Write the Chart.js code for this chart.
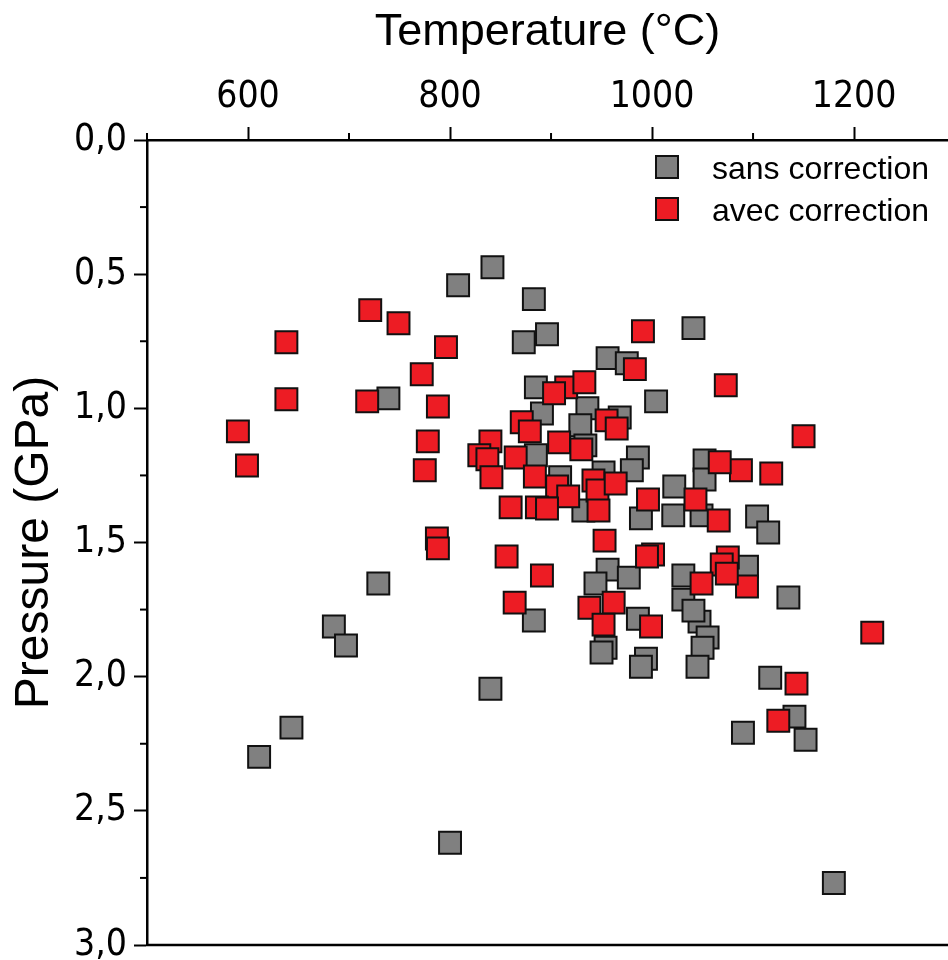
<!DOCTYPE html>
<html>
<head>
<meta charset="utf-8">
<script src="https://cdn.jsdelivr.net/npm/chart.js@4.4.1/dist/chart.umd.min.js"></script>
<style>
  html, body { margin: 0; padding: 0; background: #fff; }
</style>
</head>
<body>
<canvas id="chart_0" width="948" height="960"></canvas>
<script>
  var seriesLabels = ["sans correction", "avec correction"];
  var seriesColors = ["#808080", "#ed1c24"];

  // sans correction
  var sansT = [739, 729, 685, 697, 643, 611, 800, 1090, 1141, 1152, 1180, 1117, 1135, 1104, 1115, 1094, 842, 808, 883, 1041,
               873, 896, 956, 975, 885, 1004, 891, 936, 968, 929, 934, 885, 986, 980, 1052, 1052, 909, 952, 1022, 932,
               989, 1021, 1049, 956, 944, 977, 1031, 1031, 1047, 1041, 1055, 1050, 1045, 986, 954, 950, 994, 989, 883, 840];
  var sansP = [0.963, 1.653, 1.813, 1.884, 2.190, 2.299, 2.619, 2.209, 2.149, 2.235, 2.769, 2.004, 1.705, 1.403, 1.463, 1.590, 0.474, 0.541, 0.593, 0.701,
               0.754, 0.724, 0.813, 0.832, 0.922, 0.974, 1.019, 1.000, 1.034, 1.063, 1.138, 1.175, 1.183, 1.231, 1.194, 1.265, 1.257, 1.239, 1.291, 1.381,
               1.410, 1.399, 1.399, 1.601, 1.653, 1.631, 1.623, 1.713, 1.795, 1.754, 1.854, 1.892, 1.963, 1.784, 1.892, 1.910, 1.933, 1.963, 1.791, 2.045];

  // avec correction
  var avecT = [721, 749, 638, 796, 772, 638, 718, 788, 590, 778, 599, 775, 787, 788, 1150, 1088, 1118, 1218, 1143, 1125,
               1094, 991, 983, 1073, 915, 933, 903, 955, 965, 871, 879, 840, 908, 930, 829, 837, 865, 841, 884, 906,
               917, 942, 946, 964, 1067, 947, 860, 886, 896, 996, 1043, 1066, 953, 856, 891, 1001, 995, 1075, 1069, 1074,
               1049, 938, 962, 952, 999, 864];
  var avecP = [0.634, 0.683, 0.754, 0.772, 0.873, 0.966, 0.974, 0.993, 1.086, 1.123, 1.213, 1.231, 1.485, 1.522, 1.104, 1.231, 1.243, 1.836, 2.026, 2.164,
               1.664, 0.713, 0.854, 0.914, 0.922, 0.903, 0.944, 1.045, 1.075, 1.052, 1.086, 1.123, 1.127, 1.153, 1.175, 1.190, 1.183, 1.257, 1.254, 1.291,
               1.328, 1.269, 1.306, 1.280, 1.201, 1.381, 1.369, 1.369, 1.373, 1.340, 1.340, 1.418, 1.493, 1.552, 1.623, 1.545, 1.552, 1.556, 1.582, 1.616,
               1.653, 1.743, 1.724, 1.806, 1.813, 1.724];

  var xTicks = [500, 600, 700, 800, 900, 1000, 1100, 1200];
  var yTicks = [0, 0.25, 0.5, 0.75, 1, 1.25, 1.5, 1.75, 2, 2.25, 2.5, 2.75, 3];

  var tickFont = "'Liberation Sans Narrow', 'Arial Narrow', 'DejaVu Sans Condensed', 'Liberation Sans', Arial, sans-serif";

  function isMajorX(v) { return v % 200 === 0; }
  function isMajorY(v) { return Math.abs(v * 2 - Math.round(v * 2)) < 1e-6; }

  function toPoints(xs, ys) {
      var pts = [];
      for (var i = 0; i < xs.length; i++) {
          pts.push({x: xs[i], y: ys[i]});
      }
      return pts;
  }

  Chart.defaults.font.family = "'Liberation Sans', Arial, sans-serif";
  Chart.defaults.color = "#000";

  // minor ticks, bottom frame line and the legend inside the plot
  var axisExtras = {
      id: "axisExtras",
      beforeDatasetsDraw: function(chart) {
          var ctx = chart.ctx, a = chart.chartArea;
          var xs = chart.scales.x, ys = chart.scales.y;
          ctx.save();
          ctx.strokeStyle = "#000";
          ctx.lineWidth = 2;
          xs.ticks.forEach(function(t) {
              if (!isMajorX(t.value)) {
                  var px = xs.getPixelForValue(t.value);
                  ctx.beginPath(); ctx.moveTo(px, a.top); ctx.lineTo(px, a.top - 7); ctx.stroke();
              }
          });
          ys.ticks.forEach(function(t) {
              if (!isMajorY(t.value)) {
                  var py = ys.getPixelForValue(t.value);
                  ctx.beginPath(); ctx.moveTo(a.left, py); ctx.lineTo(a.left - 7, py); ctx.stroke();
              }
          });
          ctx.lineWidth = 2.5;
          ctx.beginPath(); ctx.moveTo(a.left - 1, a.bottom); ctx.lineTo(a.right, a.bottom); ctx.stroke();
          ctx.restore();
      },
      afterDraw: function(chart) {
          var ctx = chart.ctx, a = chart.chartArea;
          ctx.save();
          ctx.font = "32px 'Liberation Sans', Arial, sans-serif";
          ctx.textBaseline = "middle";
          chart.data.datasets.forEach(function(ds, i) {
              var cx = a.left + 520, cy = a.top + 27 + i * 42;
              ctx.fillStyle = ds.backgroundColor;
              ctx.strokeStyle = "#111";
              ctx.lineWidth = 2;
              ctx.fillRect(cx - 11, cy - 11, 22, 22);
              ctx.strokeRect(cx - 11, cy - 11, 22, 22);
              ctx.fillStyle = "#000";
              ctx.fillText(ds.label, a.left + 565, cy + 3);
          });
          ctx.restore();
      }
  };

  var chart_0 = new Chart("chart_0", {
      type: "scatter",
      data: {
          datasets: [
              { label: seriesLabels[0], data: toPoints(sansT, sansP), backgroundColor: seriesColors[0],
                borderColor: "#111", borderWidth: 2, pointStyle: "rect", pointRadius: 15.5, pointHoverRadius: 15.5, order: 1 },
              { label: seriesLabels[1], data: toPoints(avecT, avecP), backgroundColor: seriesColors[1],
                borderColor: "#111", borderWidth: 2, pointStyle: "rect", pointRadius: 15.5, pointHoverRadius: 15.5, order: 0 }
          ]
      },
      options: {
          responsive: false,
          animation: false,
          devicePixelRatio: 1,
          layout: { autoPadding: false, padding: { left: 0, right: 0, top: 0, bottom: 15 } },
          plugins: { legend: { display: false }, tooltip: { enabled: false } },
          scales: {
              x: {
                  type: "linear",
                  position: "top",
                  min: 500,
                  max: 1293,
                  afterBuildTicks: function(scale) {
                      scale.ticks = xTicks.map(function(v) { return {value: v}; });
                  },
                  afterFit: function(scale) {
                      scale.height = 140;
                      scale.paddingLeft = 0; scale.paddingRight = 0;
                  },
                  ticks: {
                      autoSkip: false,
                      maxRotation: 0,
                      padding: 7,
                      font: { size: 37, family: tickFont },
                      callback: function(v) { return isMajorX(v) ? String(v) : ""; }
                  },
                  grid: {
                      drawOnChartArea: false,
                      tickLength: 13,
                      tickWidth: 2,
                      tickColor: function(c) { return c.tick && isMajorX(c.tick.value) ? "#000" : "transparent"; }
                  },
                  border: { display: true, color: "#000", width: 2.5 },
                  title: {
                      display: true,
                      text: "Temperature (°C)",
                      font: { size: 45 },
                      padding: { top: 6, bottom: 0 }
                  }
              },
              y: {
                  type: "linear",
                  position: "left",
                  reverse: true,
                  min: 0,
                  max: 3,
                  afterBuildTicks: function(scale) {
                      scale.ticks = yTicks.map(function(v) { return {value: v}; });
                  },
                  afterFit: function(scale) {
                      scale.width = 147;
                      scale.paddingTop = 0; scale.paddingBottom = 0;
                  },
                  ticks: {
                      autoSkip: false,
                      padding: 7,
                      font: { size: 37, family: tickFont },
                      callback: function(v) { return isMajorY(v) ? v.toFixed(1).replace(".", ",") : ""; }
                  },
                  grid: {
                      drawOnChartArea: false,
                      tickLength: 13,
                      tickWidth: 2,
                      tickColor: function(c) { return c.tick && isMajorY(c.tick.value) ? "#000" : "transparent"; }
                  },
                  border: { display: true, color: "#000", width: 2.5 },
                  title: {
                      display: true,
                      text: "Pressure (GPa)",
                      font: { size: 48 },
                      padding: { top: 6, bottom: 0 }
                  }
              }
          }
      },
      plugins: [axisExtras]
  });
</script>
</body>
</html>
